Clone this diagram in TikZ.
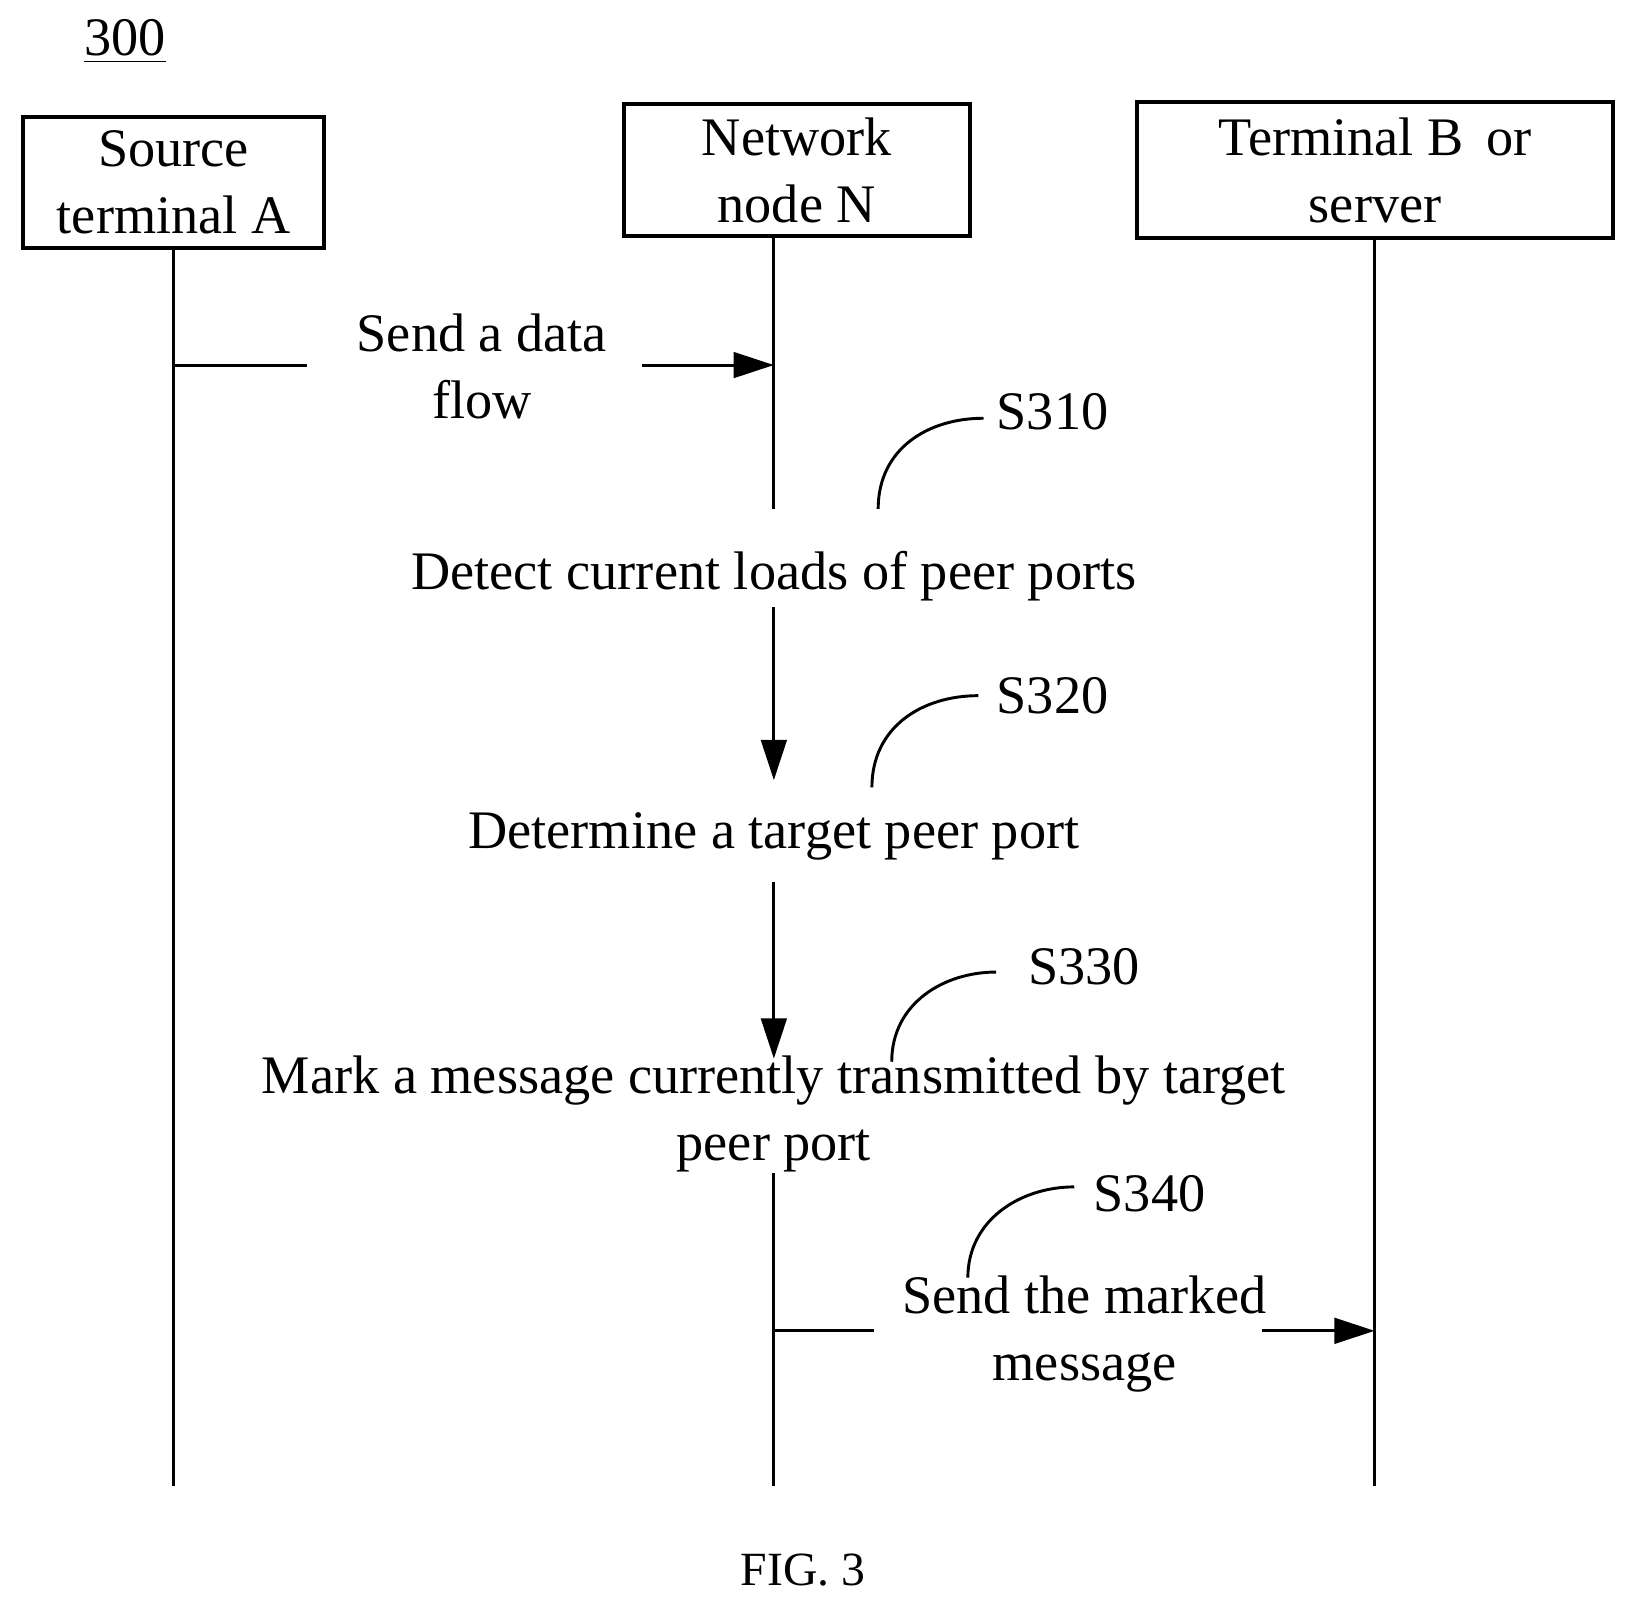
\documentclass[tikz,border=0pt]{standalone}
\usepackage{fontspec}
\setmainfont{Liberation Serif}
\usetikzlibrary{arrows.meta}
\begin{document}
\begin{tikzpicture}[x=0.01cm,y=-0.01cm,
  f/.style={font=\fontsize{14.8}{18.3}\selectfont},
  box/.style={f,draw,line width=1.1pt,inner sep=0pt,align=center,minimum height=126*0.01cm},
  txt/.style={f,align=center,inner sep=0pt},
  ln/.style={line width=0.8pt},
  arr/.style={ln,-{Triangle[length=11pt,width=7pt]}}]
\useasboundingbox (0,0) rectangle (1560,1535);
\node[txt] (t300) at (120,40) {\underline{300}};
\node[box,minimum width=289*0.01cm] (A) at (166.5,175) {Source\\terminal A};
\node[box,minimum width=332*0.01cm] (N) at (764,163) {Network\\node N};
\node[box,minimum width=457*0.01cm,minimum height=130*0.01cm] (B) at (1318.5,163) {Terminal B\, or\\server};
\coordinate (a1) at (166,1425);
\coordinate (b1) at (1318,1425);
\coordinate (n0) at (742,226); \coordinate (n1) at (742,488);
\coordinate (n2) at (742,1125); \coordinate (n3) at (742,1425);
\draw[ln] (A.south -| a1)--(a1); \draw[ln] (B.south -| b1)--(b1);
\draw[ln] (n0)--(n1); \draw[ln] (n2)--(n3);
% message 1
\coordinate (m1a) at (166,350); \coordinate (m1b) at (294,350);
\coordinate (m1c) at (616,350); \coordinate (m1d) at (742,350);
\draw[ln] (m1a)--(m1b); \draw[arr] (m1c)--(m1d);
\node[txt] (send1) at (462,351) {Send a data\\flow};
% steps
\node[txt] (detect) at (742,552) {Detect current loads of peer ports};
\node[txt] (determine) at (742,802) {Determine a target peer port};
\node[txt] (mark) at (742,1068) {Mark a message currently transmitted by target\\peer port};
\coordinate (d1) at (742,582); \coordinate (d2) at (742,748);
\coordinate (e1) at (742,846); \coordinate (e2) at (742,1015);
\draw[arr] (d1)--(d2); \draw[arr] (e1)--(e2);
% step labels
\node[txt,anchor=west] (s310) at (955,395) {S310};
\node[txt,anchor=west] (s320) at (955,667) {S320};
\node[txt,anchor=west] (s330) at (985,927) {S330};
\node[txt,anchor=west] (s340) at (1048,1145) {S340};
\coordinate (c1) at (842,488); \coordinate (c2) at (836,755);
\coordinate (c3) at (855,1018); \coordinate (c4) at (928,1225);
\coordinate (k1) at (943,401); \coordinate (k2) at (938,667);
\coordinate (k3) at (955,932); \coordinate (k4) at (1030,1138);
\draw[ln] (c1) .. controls (842,430) and (890,401) .. (k1);
\draw[ln] (c2) .. controls (836,697) and (884,667) .. (k2);
\draw[ln] (c3) .. controls (855,962) and (905,932) .. (k3);
\draw[ln] (c4) .. controls (928,1170) and (978,1138) .. (k4);
% message 2
\coordinate (m2a) at (742,1276); \coordinate (m2b) at (838,1276);
\coordinate (m2c) at (1210,1276); \coordinate (m2d) at (1318,1276);
\draw[ln] (m2a)--(m2b); \draw[arr] (m2c)--(m2d);
\node[txt] (send2) at (1040,1279) {Send the marked\\message};
\node[txt,font=\fontsize{13}{15}\selectfont] (fig) at (770,1505) {FIG. 3};
\end{tikzpicture}
\end{document}
